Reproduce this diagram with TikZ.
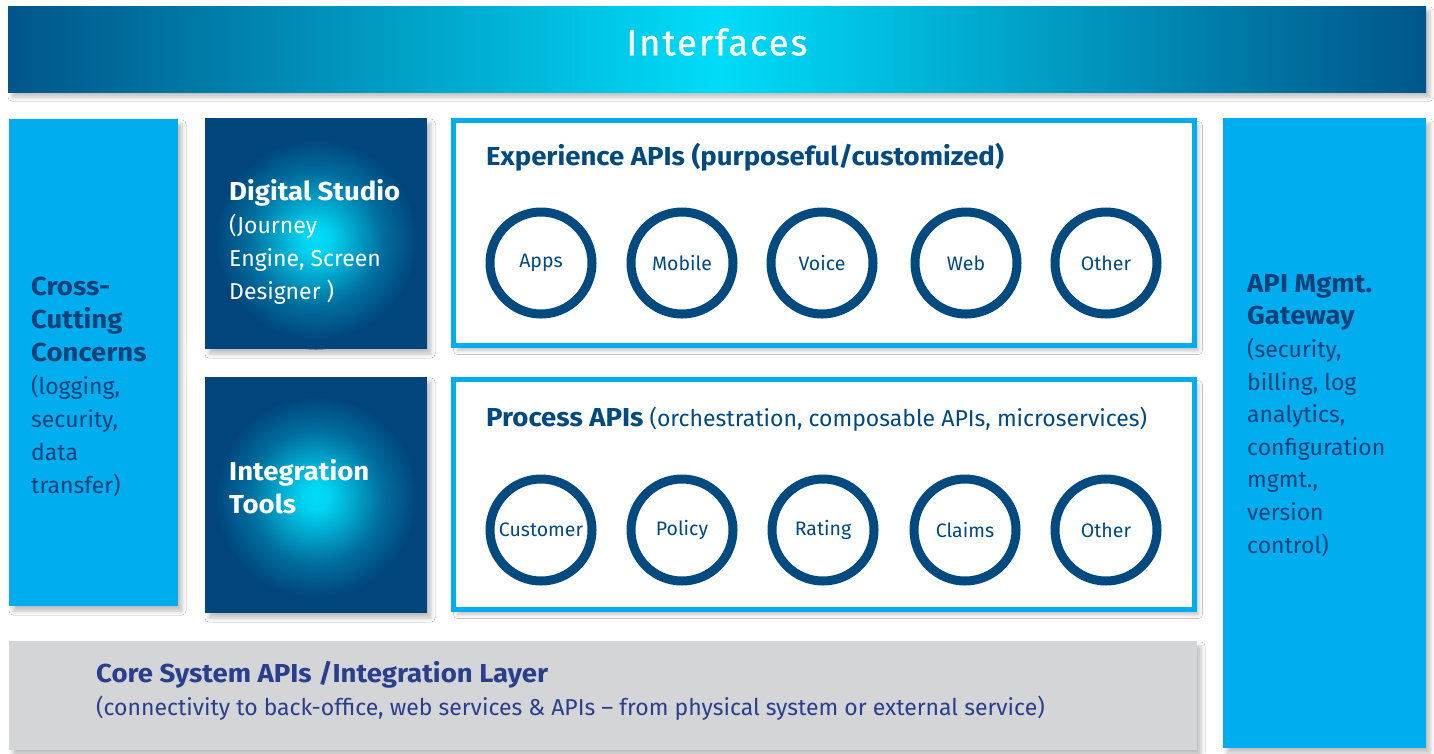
\documentclass[tikz,border=0pt]{standalone}
\usepackage{fontspec}
\setmainfont{Fira Sans}[BoldFeatures={FakeStretch=1.06}]
\usetikzlibrary{shadows.blur}
\definecolor{navy}{HTML}{00457C}
\definecolor{ringblue}{HTML}{004A80}
\definecolor{skyb}{HTML}{00AEEF}
\definecolor{glowc}{HTML}{00DCF8}
\definecolor{coregray}{HTML}{D4D5D7}
\definecolor{indigo}{HTML}{293E8D}
\definecolor{textnavy}{HTML}{0B4179}
\pgfdeclarehorizontalshading{bannershade}{100bp}{color(0bp)=(navy); color(22bp)=(navy); color(50bp)=(glowc); color(78bp)=(navy); color(100bp)=(navy)}
\pgfdeclareradialshading{glowshade}{\pgfpoint{0bp}{0bp}}{color(0bp)=(glowc); color(3bp)=(glowc!95!navy); color(9bp)=(glowc!62!navy); color(15bp)=(glowc!28!navy); color(23bp)=(navy); color(50bp)=(navy)}
\newcommand\hd[1]{{\fontsize{26}{33}\selectfont\bfseries #1}}
\begin{document}
\begin{tikzpicture}[x=1pt,y=-1pt,
  shadowed/.style={blur shadow={shadow xshift=4pt, shadow yshift=-5pt, shadow blur radius=4pt, shadow opacity=25}},
  panel/.style={shadowed, inner sep=0pt, outer sep=0pt, draw=none},
  skypanel/.style={panel, fill=skyb},
  darkpanel/.style={panel, fill=navy},
  glow/.style={shading=glowshade},
  apibox/.style={shadowed, draw=skyb, line width=5pt, fill=white, inner sep=0pt},
  ring/.style={circle, draw=ringblue, line width=9pt, minimum size=102pt, inner sep=0pt, font=\fontsize{19.5}{21}\selectfont, text=ringblue},
  bodytxt/.style={anchor=north west, align=left, inner sep=0pt, font=\fontsize{23}{33}\selectfont},
]
\useasboundingbox (0,0) rectangle (1434,753);
\fill[white] (0,0) rectangle (1434,753);

% banner
\node[panel, shading=bannershade, minimum width=1418pt, minimum height=86pt] (banner) at (717,49) {};
\node[text=white, inner sep=0pt, font=\fontsize{36}{38}\selectfont\addfontfeature{LetterSpace=6,FakeBold=0.9}] (bannertxt) at (717,42) {Interfaces};

% side panels
\node[skypanel, minimum width=169pt, minimum height=487pt] (cross) at (93.5,362.5) {};
\node[bodytxt, text=textnavy] (crosstxt) at (31,277) {\hd{Cross-}\\\hd{Cutting}\\\hd{Concerns}\\(logging,\\security,\\data\\transfer)};

\node[skypanel, minimum width=203pt, minimum height=630pt] (gateway) at (1324.5,433) {};
\node[bodytxt, text=textnavy, font=\fontsize{23}{32.6}\selectfont] (gatewaytxt) at (1247,274) {\hd{API Mgmt.}\\\hd{Gateway}\\(security,\\billing, log\\analytics,\\configuration\\mgmt.,\\version\\control)};

% dark panels
\node[darkpanel, minimum width=222pt, minimum height=231pt] (studio) at (316,233.5) {};
\begin{scope}
\clip (studio.north west) rectangle (studio.south east);
\shade[glow] ([yshift=-6pt]studio.center) circle[radius=110pt];
\end{scope}
\node[bodytxt, text=white] (studiotxt) at (229,179) {\hd{Digital Studio}\\(Journey\\Engine, Screen\\Designer )};

\node[darkpanel, minimum width=222pt, minimum height=236pt] (integ) at (316,495) {};
\begin{scope}
\clip (integ.north west) rectangle (integ.south east);
\shade[glow] ([yshift=-2pt]integ.center) circle[radius=110pt];
\end{scope}
\node[bodytxt, text=white] (integtxt) at (229,459) {\hd{Integration}\\\hd{Tools}};

% API boxes
\node[apibox, minimum width=741pt, minimum height=225pt] (exp) at (824,233) {};
\node[bodytxt, text=ringblue] (exptxt) at (486,143) {\hd{Experience APIs (purposeful/customized)}};
\node[ring] (apps) at (541,263) {Apps};
\node[ring] (mobile) at (682,263) {Mobile};
\node[ring] (voice) at (822,263) {Voice};
\node[ring] (web) at (966,263) {Web};
\node[ring] (other1) at (1106,263) {Other};

\node[apibox, minimum width=741pt, minimum height=230pt] (proc) at (824,494.5) {};
\node[bodytxt, text=ringblue] (proctxt) at (486,407) {\hd{Process APIs} (orchestration, composable APIs, microservices)};
\node[ring] (customer) at (541,530) {Customer};
\node[ring] (policy) at (682,530) {Policy};
\node[ring] (rating) at (823,530) {Rating};
\node[ring] (claims) at (965,530) {Claims};
\node[ring] (other2) at (1106,530) {Other};

% core layer
\node[panel, fill=coregray, minimum width=1188pt, minimum height=109pt] (core) at (603,695.5) {};
\node[bodytxt, text=indigo] (coretxt) at (96,661) {\hd{Core System APIs /Integration Layer}\\(connectivity to back-office, web services \& APIs – from physical system or external service)};
\end{tikzpicture}
\end{document}
